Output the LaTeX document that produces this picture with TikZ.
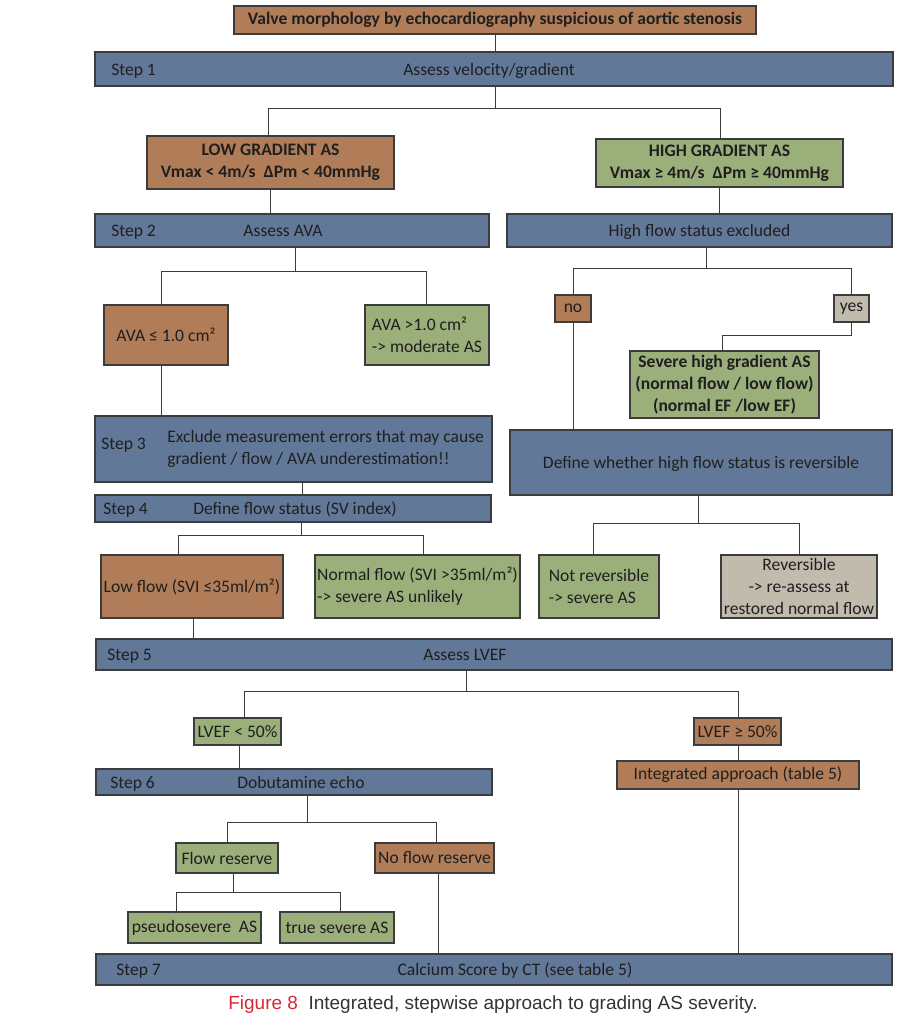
\documentclass[tikz,border=0pt]{standalone}
\usepackage{fontspec}
\setmainfont{Carlito}
\newfontfamily\capfont{Liberation Sans}

\definecolor{boxbrown}{HTML}{B17D58}
\definecolor{boxgreen}{HTML}{9BAF7B}
\definecolor{stepblue}{HTML}{627898}
\definecolor{boxbeige}{HTML}{C0BBAC}
\definecolor{edgegray}{HTML}{3C3C3C}
\definecolor{figred}{HTML}{D42A34}

\tikzset{
  wh/.style 2 args={minimum width=#1*0.25mm, minimum height=#2*0.25mm},
  boldtxt/.style={font=\fontsize{12.5}{15.5}\selectfont\bfseries},
  box/.style={draw=edgegray, line width=0.9pt, inner sep=1pt, align=center},
  brownbox/.style={box, fill=boxbrown},
  greenbox/.style={box, fill=boxgreen},
  beigebox/.style={box, fill=boxbeige},
  stepbar/.style={box, fill=stepblue},
  bartxt/.style={text height=1.8ex, text depth=0pt},
  steplbl/.style={bartxt, anchor=west, inner sep=0pt},
  link/.style={draw=edgegray, line width=0.7pt}
}

\begin{document}
\begin{tikzpicture}[x=0.25mm, y=-0.25mm,
  every node/.style={font=\fontsize{12.5}{15.5}\selectfont, text=black!88}]
\useasboundingbox (0,0) rectangle (908,1024);

% start and step 1
\node[brownbox, boldtxt, wh={522}{28}] (valve) at (495,20) {Valve morphology by echocardiography suspicious of aortic stenosis};
\node[stepbar, wh={798}{34}] (step1) at (494,69) {};
\node[steplbl] (step1lbl) at (111,69) {Step 1};
\node[bartxt] (step1txt) at (489,69) {Assess velocity/gradient};
\draw[link] (valve.south) -- (step1.north -| valve.south);

% gradient
\node[brownbox, boldtxt, wh={247}{53}] (lowgrad) at (270.5,162.5) {LOW GRADIENT AS\\Vmax < 4m/s\ \ ΔPm < 40mmHg};
\node[greenbox, boldtxt, wh={247}{48}] (highgrad) at (719.5,163) {HIGH GRADIENT AS\\Vmax ≥ 4m/s\ \ ΔPm ≥ 40mmHg};
\coordinate (f1l) at (268,108);
\coordinate (f1) at (495,108);
\coordinate (f1r) at (720,108);
\draw[link] (step1.south -| f1) -- (f1);
\draw[link] (lowgrad.north -| f1l) -- (f1l) -- (f1r) -- (highgrad.north -| f1r);

% step 2 / high flow
\node[stepbar, wh={394}{33}] (step2) at (292,230.5) {};
\node[steplbl] (step2lbl) at (111,230.5) {Step 2};
\node[bartxt] (step2txt) at (283,230.5) {Assess AVA};
\node[stepbar, bartxt, wh={385}{33}] (hfex) at (699.5,230.5) {High flow status excluded};
\draw[link] (lowgrad.south) -- (step2.north -| lowgrad.south);
\draw[link] (highgrad.south) -- (hfex.north -| highgrad.south);

% AVA
\node[brownbox, wh={124}{60}] (ava1) at (166,335) {AVA ≤ 1.0 cm²};
\node[greenbox, wh={124}{60}, align=left] (ava2) at (427,335) {AVA >1.0 cm²\\-> moderate AS};
\coordinate (f2l) at (161,271);
\coordinate (f2) at (295,271);
\coordinate (f2r) at (426,271);
\draw[link] (step2.south -| f2) -- (f2);
\draw[link] (ava1.north -| f2l) -- (f2l) -- (f2r) -- (ava2.north -| f2r);

% no / yes
\node[brownbox, wh={36}{27}] (no) at (573,308.5) {no};
\node[beigebox, wh={35}{27}] (yes) at (851.5,308.5) {yes};
\coordinate (f3l) at (573,268);
\coordinate (f3) at (706,268);
\coordinate (f3r) at (851,268);
\draw[link] (hfex.south -| f3) -- (f3);
\draw[link] (no.north -| f3l) -- (f3l) -- (f3r) -- (yes.north -| f3r);
\node[greenbox, boldtxt, wh={189}{67}] (severe) at (724.5,384.5) {Severe high gradient AS\\(normal flow / low flow)\\(normal EF /low EF)};
\coordinate (k1) at (851,335);
\coordinate (k2) at (722,335);
\draw[link] (yes.south -| k1) -- (k1) -- (k2) -- (severe.north -| k2);

% step 3 / reversibility
\node[stepbar, wh={397}{66}] (step3) at (293.5,449) {};
\node[steplbl] (step3lbl) at (101,443) {Step 3};
\node[anchor=west, inner sep=0pt, align=left] (step3txt) at (167,449) {Exclude measurement errors that may cause\\gradient / flow / AVA underestimation!!};
\draw[link] (ava1.south -| f2l) -- (step3.north -| f2l);
\node[stepbar, bartxt, wh={382}{65}] (defrev) at (701,462.5) {Define whether high flow status is reversible};
\draw[link] (no.south) -- (defrev.north -| no.south);

% step 4
\node[stepbar, wh={396}{27}] (step4) at (293,508.5) {};
\node[steplbl] (step4lbl) at (103,508.5) {Step 4};
\node[bartxt] (step4txt) at (295,508.5) {Define flow status (SV index)};
\coordinate (g1) at (302,482);
\draw[link] (step3.south -| g1) -- (step4.north -| g1);

% flow status
\node[brownbox, wh={182}{63}] (lowflow) at (192,586.5) {Low flow (SVI ≤35ml/m²)};
\node[greenbox, wh={205}{63}, align=left, inner sep=0.5pt] (normflow) at (417.5,586.5) {Normal flow (SVI >35ml/m²)\\-> severe AS unlikely};
\coordinate (f4l) at (178,535);
\coordinate (f4) at (301,535);
\coordinate (f4r) at (423,535);
\draw[link] (step4.south -| f4) -- (f4);
\draw[link] (lowflow.north -| f4l) -- (f4l) -- (f4r) -- (normflow.north -| f4r);

\node[greenbox, wh={120}{63}, align=left] (notrev) at (599,586.5) {Not reversible\\-> severe AS};
\node[beigebox, wh={156}{63}] (rev) at (799,586.5) {Reversible\\-> re-assess at\\restored normal flow};
\coordinate (f5l) at (593,523);
\coordinate (f5) at (698,523);
\coordinate (f5r) at (799,523);
\draw[link] (defrev.south -| f5) -- (f5);
\draw[link] (notrev.north -| f5l) -- (f5l) -- (f5r) -- (rev.north -| f5r);

% step 5
\node[stepbar, wh={796}{31}] (step5) at (494,654.5) {};
\node[steplbl] (step5lbl) at (107,654.5) {Step 5};
\node[bartxt] (step5txt) at (465,654.5) {Assess LVEF};
\coordinate (g2) at (193,618);
\draw[link] (lowflow.south -| g2) -- (step5.north -| g2);

\node[greenbox, wh={87}{27}] (lvef1) at (237.5,731.5) {LVEF < 50\%};
\node[brownbox, wh={87}{27}] (lvef2) at (737.5,731.5) {LVEF ≥ 50\%};
\coordinate (f6l) at (244,691);
\coordinate (f6) at (466,691);
\coordinate (f6r) at (738,691);
\draw[link] (step5.south -| f6) -- (f6);
\draw[link] (lvef1.north -| f6l) -- (f6l) -- (f6r) -- (lvef2.north -| f6r);

% step 6
\node[stepbar, wh={396}{26}] (step6) at (294,782) {};
\node[steplbl] (step6lbl) at (110,782) {Step 6};
\node[bartxt] (step6txt) at (301,782) {Dobutamine echo};
\coordinate (g3) at (239,745);
\draw[link] (lvef1.south -| g3) -- (step6.north -| g3);
\node[brownbox, wh={242}{28}] (integ) at (738,775) {Integrated approach (table 5)};
\draw[link] (lvef2.south -| f6r) -- (integ.north -| f6r);

\node[greenbox, wh={102}{30}] (flowres) at (227,858) {Flow reserve};
\node[brownbox, wh={119}{30}] (noflow) at (434.5,858) {No flow reserve};
\coordinate (f7l) at (227,822);
\coordinate (f7) at (307,822);
\coordinate (f7r) at (436,822);
\draw[link] (step6.south -| f7) -- (f7);
\draw[link] (flowres.north -| f7l) -- (f7l) -- (f7r) -- (noflow.north -| f7r);

\node[greenbox, wh={133}{31}] (pseudo) at (194.5,927.5) {pseudosevere\ \ AS};
\node[greenbox, wh={114}{31}] (truesev) at (337,927.5) {true severe AS};
\coordinate (f8l) at (176,892);
\coordinate (f8) at (233,892);
\coordinate (f8r) at (340,892);
\draw[link] (flowres.south -| f8) -- (f8);
\draw[link] (pseudo.north -| f8l) -- (f8l) -- (f8r) -- (truesev.north -| f8r);

% step 7
\node[stepbar, wh={796}{31}] (step7) at (494,969.5) {};
\node[steplbl] (step7lbl) at (116,969.5) {Step 7};
\node[bartxt] (step7txt) at (515,969.5) {Calcium Score by CT (see table 5)};
\coordinate (g4) at (438,873);
\draw[link] (noflow.south -| g4) -- (step7.north -| g4);
\draw[link] (integ.south -| f6r) -- (step7.north -| f6r);

\node[font=\capfont\fontsize{13.5}{16}\selectfont, text=black!80] (caption) at (493,1005) {\textcolor{figred}{Figure 8}\ \ Integrated, stepwise approach to grading AS severity.};
\end{tikzpicture}
\end{document}
